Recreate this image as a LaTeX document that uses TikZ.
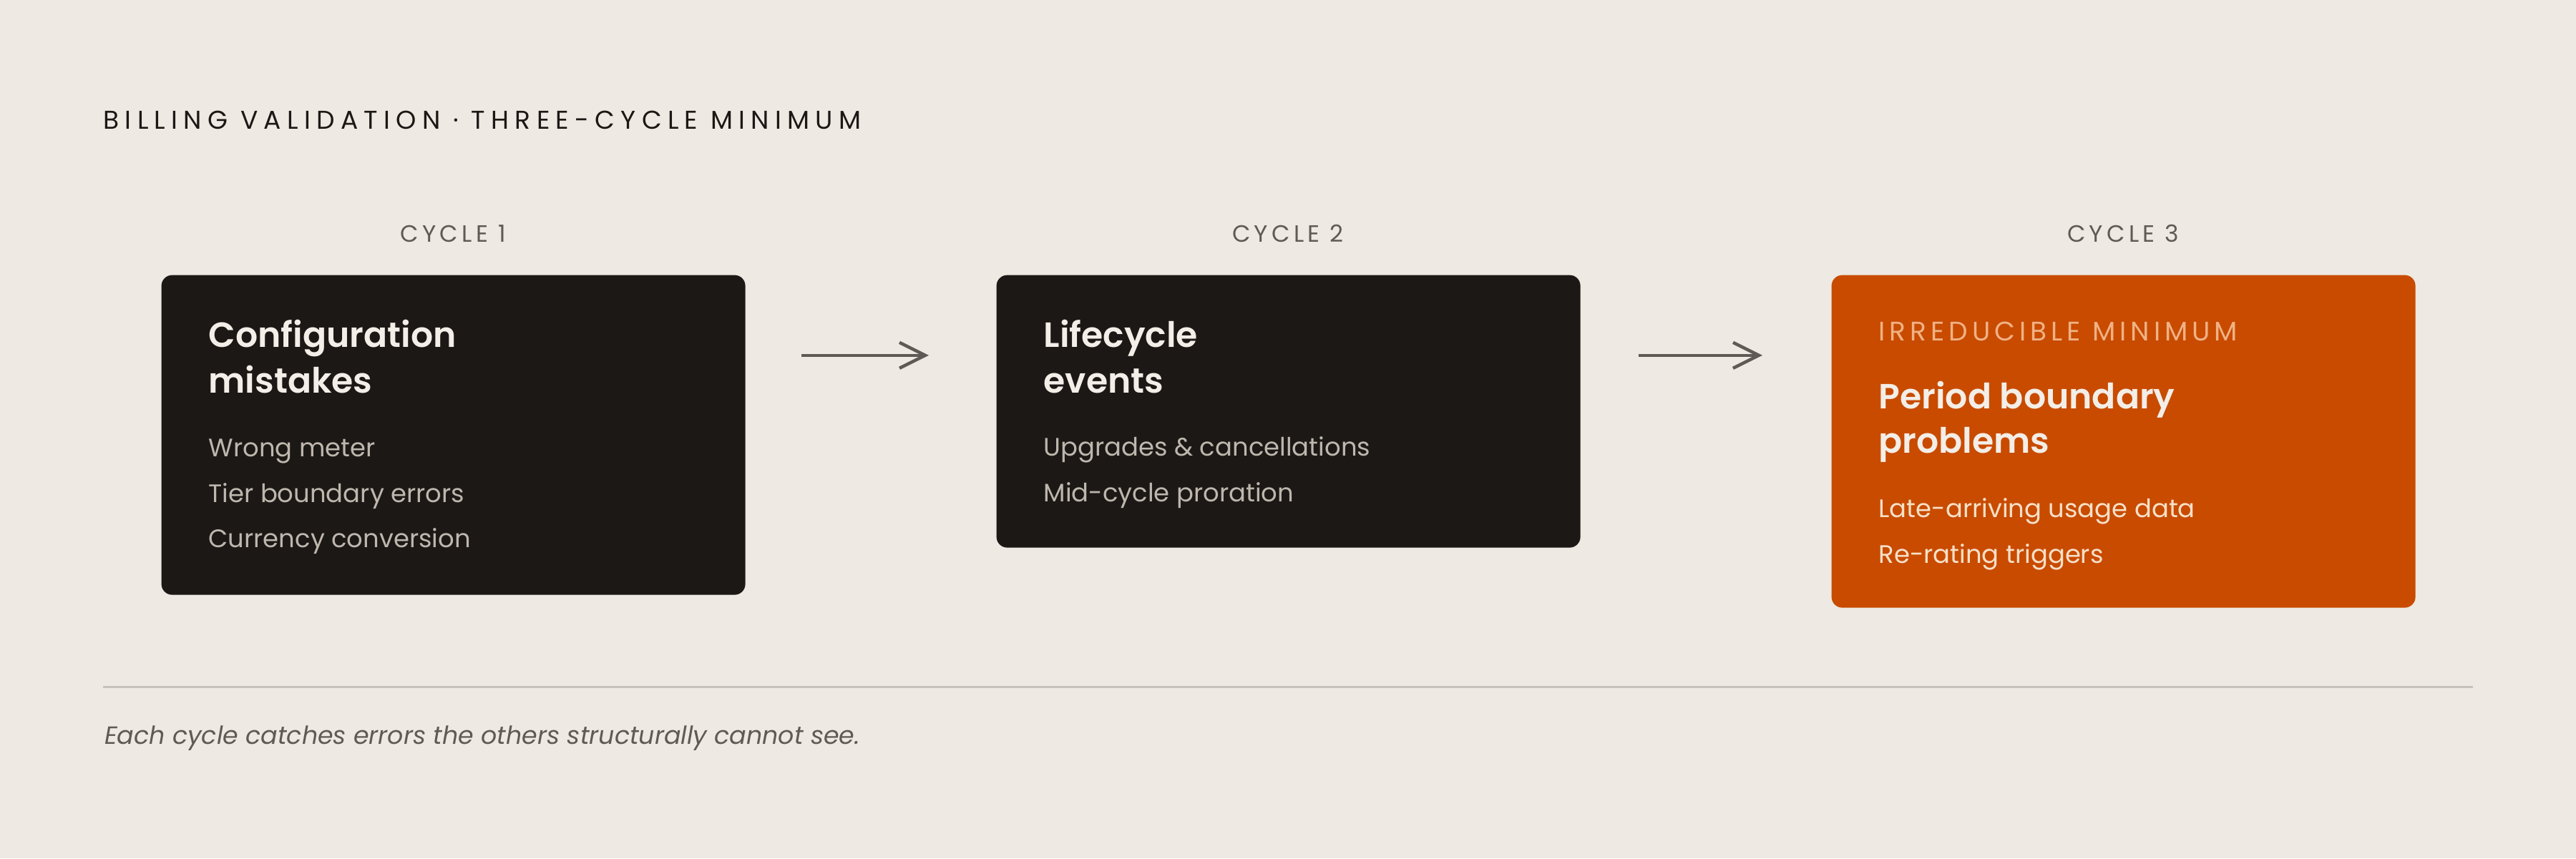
\documentclass[tikz,border=0pt]{standalone}
\usepackage{fontspec}
\setmainfont{Poppins}[BoldFont={* SemiBold}]
\newfontfamily\capsfont[LetterSpace=16]{Poppins}
\newfontfamily\titlefont[LetterSpace=23]{Poppins}
\usetikzlibrary{arrows.meta,positioning}

\definecolor{paper}{HTML}{EEE9E2}
\definecolor{ink}{HTML}{1C1815}
\definecolor{rust}{HTML}{C84B00}
\definecolor{chalk}{HTML}{F3EEE7}
\definecolor{ash}{HTML}{BDB7AE}
\definecolor{slate}{HTML}{5E5A55}
\definecolor{peach}{HTML}{F0B285}
\definecolor{cream}{HTML}{F7E0C8}
\definecolor{rulegrey}{HTML}{C6C1BA}

\tikzset{
	cyclebox/.style={rounded corners=5pt, inner sep=0pt, anchor=north west, minimum width=272pt},
	cyclelabel/.style={font=\capsfont\fontsize{11}{13}\selectfont, text=slate, anchor=base, inner sep=0pt},
	headline/.style={font=\bfseries\fontsize{16.3}{20}\selectfont, text=chalk, anchor=base west, inner sep=0pt},
	itemline/.style={font=\fontsize{11.8}{14}\selectfont, anchor=base west, inner sep=0pt},
	flowarrow/.style={draw=slate, line width=1.5pt, -{Straight Barb[length=12pt,width=12pt]}},
}

\begin{document}
\begin{tikzpicture}[x=1pt, y=-1pt]
			%%%%% START %%%%%
			
			\fill[paper] (0, 0) rectangle (1200, 400);
			\useasboundingbox (0, 0) rectangle (1200, 400);
			
			\node[font=\titlefont\fontsize{12}{14}\selectfont, text=ink, anchor=base west, inner sep=0pt] (title) at (48, 60) {BILLING VALIDATION · THREE-CYCLE MINIMUM};
			
			% cycle 1
			\node[cyclelabel] (lab1) at (211, 112.7) {CYCLE 1};
			\node[cyclebox, fill=ink, minimum height=149pt] (b1) at (75, 128) {};
			\node[headline] (h1a) at (97, 161.7) {Configuration};
			\node[headline] (h1b) at (97, 183) {mistakes};
			\node[itemline, text=ash] (i1a) at (97, 212.7) {Wrong meter};
			\node[itemline, text=ash] (i1b) at (97, 234) {Tier boundary errors};
			\node[itemline, text=ash] (i1c) at (97, 255.3) {Currency conversion};
			
			% cycle 2
			\node[cyclelabel] (lab2) at (600, 112.7) {CYCLE 2};
			\node[cyclebox, fill=ink, minimum height=127pt] (b2) at (464, 128) {};
			\node[headline] (h2a) at (486, 161.7) {Lifecycle};
			\node[headline] (h2b) at (486, 183) {events};
			\node[itemline, text=ash] (i2a) at (486, 212.4) {Upgrades \& cancellations};
			\node[itemline, text=ash] (i2b) at (486, 233.9) {Mid-cycle proration};
			
			% cycle 3
			\node[cyclelabel] (lab3) at (989, 112.7) {CYCLE 3};
			\node[cyclebox, fill=rust, minimum height=155pt] (b3) at (853, 128) {};
			\node[font=\capsfont\fontsize{12.5}{14}\selectfont, text=peach, anchor=base west, inner sep=0pt] (tag3) at (875, 158.7) {IRREDUCIBLE MINIMUM};
			\node[headline] (h3a) at (875, 190.5) {Period boundary};
			\node[headline] (h3b) at (875, 211.3) {problems};
			\node[itemline, text=cream] (i3a) at (875, 241) {Late-arriving usage data};
			\node[itemline, text=cream] (i3b) at (875, 262.4) {Re-rating triggers};
			
			% arrows between the boxes
			\draw[flowarrow] ([xshift=26pt, yshift=-37.6pt]b1.north east) -- ([xshift=-31.3pt, yshift=-37.6pt]b2.north west);
			\draw[flowarrow] ([xshift=27pt, yshift=-37.6pt]b2.north east) -- ([xshift=-32pt, yshift=-37.6pt]b3.north west);
			
			\draw[line width=1pt, color=rulegrey] (48, 320) -- (1152, 320);
			\node[font=\itshape\fontsize{11.6}{14}\selectfont, text=slate, anchor=base west, inner sep=0pt] (note) at (48.5, 346.9) {Each cycle catches errors the others structurally cannot see.};
			
			%%%%% END %%%%%
\end{tikzpicture}
\end{document}
